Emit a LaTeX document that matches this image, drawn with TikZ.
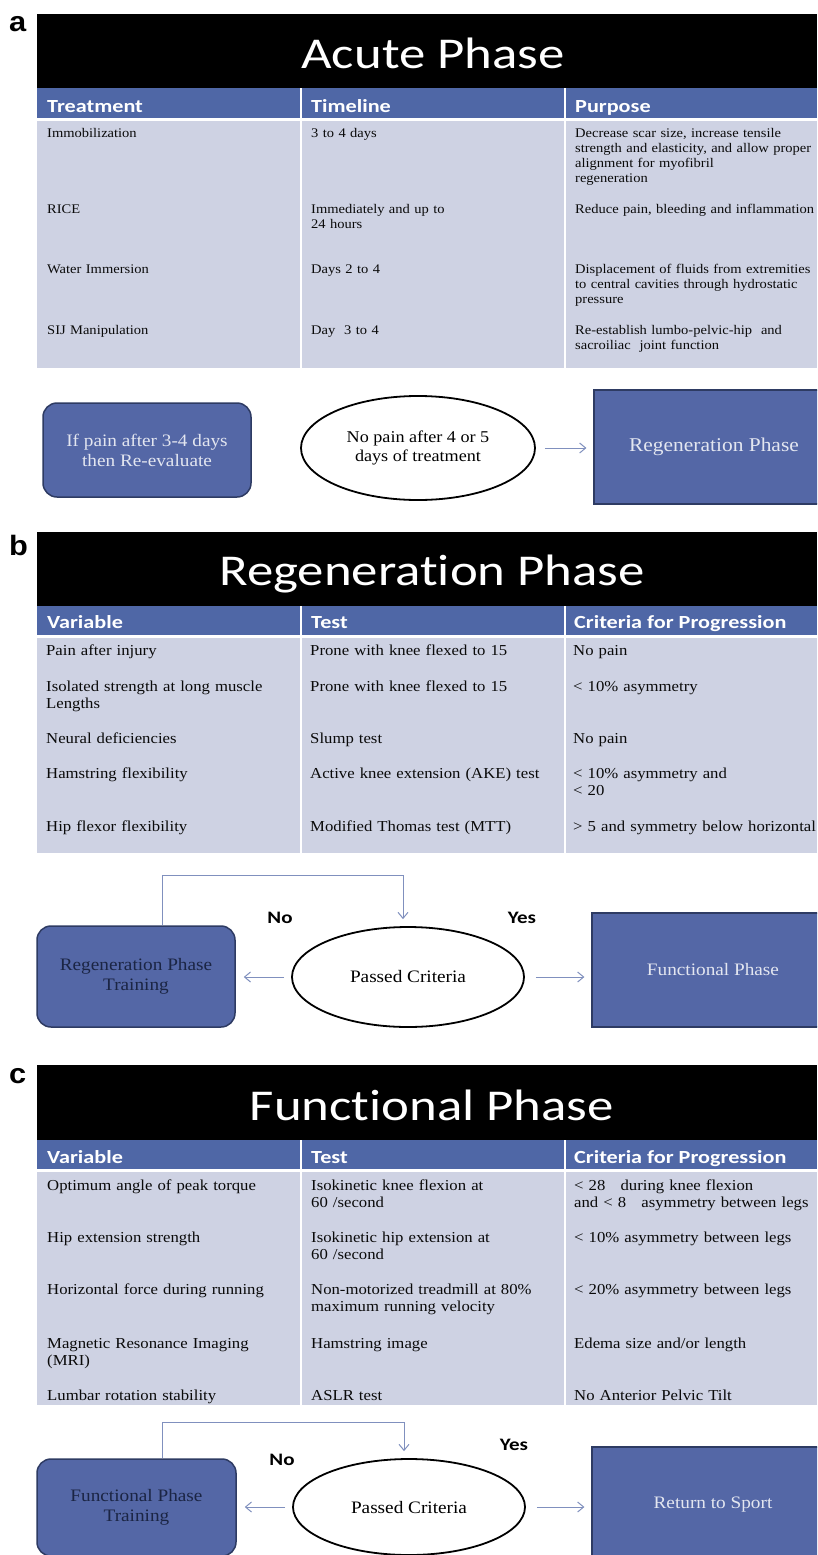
\documentclass[tikz,border=0pt]{standalone}
\usepackage{fontspec}
\setmainfont{Liberation Serif}[FakeStretch=1.1]
\newfontfamily\calfont{Carlito}[FakeStretch=1.2,Ligatures=NoCommon]
\newfontfamily\labfont{Liberation Sans}[FakeStretch=1.1]
\usetikzlibrary{shapes.geometric,arrows.meta,calc}
\definecolor{hdrblue}{HTML}{4F67A6}
\definecolor{cellbg}{HTML}{CED2E3}
\definecolor{boxblue}{HTML}{5467A6}
\definecolor{boxedge}{HTML}{2E3B63}
\definecolor{connc}{HTML}{8090BE}
\definecolor{bodytxt}{HTML}{0A0A0A}
\definecolor{lighttxt}{HTML}{E3E6F0}
\definecolor{navytxt}{HTML}{1B2544}
\begin{document}
\begin{tikzpicture}[x=1pt,y=-1pt,
  titletxt/.style={anchor=base, inner sep=0, text=white, font=\calfont\fontsize{44}{48}\selectfont},
  headtxt/.style={anchor=base west, inner sep=0, text=white, font=\calfont\bfseries\fontsize{18.5}{20}\selectfont},
  cellA/.style={anchor=base west, inner sep=0, text=bodytxt, text width=260pt, align=left, font=\fontsize{13.2}{15}\selectfont},
  cellB/.style={cellA, font=\fontsize{15.2}{17}\selectfont},
  cellC/.style={cellA, font=\fontsize{15.2}{17.5}\selectfont},
  panellab/.style={anchor=base west, inner sep=0, text=black, font=\labfont\bfseries\fontsize{28}{30}\selectfont},
  rbox/.style={draw=boxedge, line width=1.5pt, fill=boxblue, rounded corners=14pt, inner sep=0, align=center, font=\fontsize{17.5}{20}\selectfont},
  sbox/.style={draw=boxedge, line width=1.2pt, fill=boxblue, inner sep=0, align=center, text=lighttxt, font=\fontsize{17.5}{20}\selectfont},
  oval/.style={ellipse, draw=black, line width=1.8pt, fill=white, inner sep=0, align=center, text=black, font=\fontsize{17.5}{19.5}\selectfont},
  conn/.style={draw=connc, line width=1pt, -{Straight Barb[length=6pt,width=10pt]}},
  yesno/.style={inner sep=0, text=black, font=\calfont\bfseries\fontsize{17.5}{19}\selectfont},
]
\useasboundingbox (0,0) rectangle (817,1555);
\clip (0,0) rectangle (817,1555);
\fill[white] (0,0) rectangle (817,1555);

% ================= panel a =================
\node[panellab] (labA) at (9,32) {a};
\fill[black] (37,14) rectangle (817,88);
\fill[hdrblue] (37,88) rectangle (817,118);
\fill[cellbg] (37,121) rectangle (817,368);
\draw[white, line width=2pt] (301,88) -- (301,368) (565,88) -- (565,368);
\node[titletxt] (tA) at (433,68) {Acute Phase};
\node[headtxt] (hA1) at (47,112) {Treatment};
\node[headtxt] (hA2) at (311,112) {Timeline};
\node[headtxt] (hA3) at (575,112) {Purpose};

\node[cellA] (a11) at (47,137) {Immobilization};
\node[cellA] (a12) at (311,137) {3 to 4 days};
\node[cellA] (a13) at (575,137) {Decrease scar size, increase tensile\\strength and elasticity, and allow proper\\alignment for myofibril\\regeneration};
\node[cellA] (a21) at (47,213) {RICE};
\node[cellA] (a22) at (311,213) {Immediately and up to\\24 hours};
\node[cellA] (a23) at (575,213) {Reduce pain, bleeding and inflammation};
\node[cellA] (a31) at (47,273) {Water Immersion};
\node[cellA] (a32) at (311,273) {Days 2 to 4};
\node[cellA] (a33) at (575,273) {Displacement of fluids from extremities\\to central cavities through hydrostatic\\pressure};
\node[cellA] (a41) at (47,334) {SIJ Manipulation};
\node[cellA] (a42) at (311,334) {Day\ \ 3 to 4};
\node[cellA] (a43) at (575,334) {Re-establish lumbo-pelvic-hip\ \ and\\sacroiliac\ \ joint function};

\node[rbox, text=lighttxt, minimum width=208pt, minimum height=94pt] (painA) at (147,450) {If pain after 3-4 days\\then Re-evaluate};
\node[oval, minimum width=234pt, minimum height=104pt, font=\fontsize{16.5}{18.5}\selectfont] (ovA) at (418,448) {No pain after 4 or 5\\days of treatment};
\node[sbox, minimum width=240pt, minimum height=114pt, font=\fontsize{19.5}{22}\selectfont] (regA) at (714,447) {Regeneration Phase};
\draw[conn] ($(ovA.east)+(9,0)$) -- ($(regA.west |- ovA.east)+(-7,0)$);

% ================= panel b =================
\node[panellab] (labB) at (9,555) {b};
\fill[black] (37,532) rectangle (817,606);
\fill[hdrblue] (37,606) rectangle (817,635);
\fill[cellbg] (37,638) rectangle (817,853);
\draw[white, line width=2pt] (301,606) -- (301,853) (565,606) -- (565,853);
\node[titletxt] (tB) at (432,585) {Regeneration Phase};
\node[headtxt] (hB1) at (47,628) {Variable};
\node[headtxt] (hB2) at (311,628) {Test};
\node[headtxt] (hB3) at (574,628) {Criteria for Progression};

\node[cellB] (b11) at (46,655) {Pain after injury};
\node[cellB] (b12) at (310,655) {Prone with knee flexed to 15};
\node[cellB] (b13) at (573,655) {No pain};
\node[cellB] (b21) at (46,691) {Isolated strength at long muscle\\Lengths};
\node[cellB] (b22) at (310,691) {Prone with knee flexed to 15};
\node[cellB] (b23) at (573,691) {< 10\% asymmetry};
\node[cellB] (b31) at (46,743) {Neural deficiencies};
\node[cellB] (b32) at (310,743) {Slump test};
\node[cellB] (b33) at (573,743) {No pain};
\node[cellB] (b41) at (46,778) {Hamstring flexibility};
\node[cellB] (b42) at (310,778) {Active knee extension (AKE) test};
\node[cellB] (b43) at (573,778) {< 10\% asymmetry and\\< 20};
\node[cellB] (b51) at (46,831) {Hip flexor flexibility};
\node[cellB] (b52) at (310,831) {Modified Thomas test (MTT)};
\node[cellB] (b53) at (573,831) {> 5 and symmetry below horizontal};

\node[rbox, text=navytxt, minimum width=198pt, minimum height=101pt] (trB) at (136,976.5) {Regeneration Phase\\Training};
\node[oval, minimum width=232pt, minimum height=100pt] (ovB) at (408,977) {Passed Criteria};
\node[sbox, minimum width=242pt, minimum height=114pt] (fnB) at (713,970) {Functional Phase};
\node[yesno] (noB) at (280,918) {No};
\node[yesno] (yesB) at (522,918) {Yes};
\draw[conn] ($(ovB.west)+(-7,0)$) -- ($(trB.east |- ovB.west)+(8,0)$);
\draw[conn] ($(ovB.east)+(11,0)$) -- ($(fnB.west |- ovB.east)+(-7,0)$);
\draw[conn] ($(trB.north)+(26,0)$) -- ++(0,-50) -| ($(ovB.north)+(-5,-7)$);

% ================= panel c =================
\node[panellab] (labC) at (9,1083) {c};
\fill[black] (37,1065) rectangle (817,1140);
\fill[hdrblue] (37,1140) rectangle (817,1169);
\fill[cellbg] (37,1172) rectangle (817,1405);
\draw[white, line width=2pt] (301,1140) -- (301,1405) (565,1140) -- (565,1405);
\node[titletxt] (tC) at (432,1120) {Functional Phase};
\node[headtxt] (hC1) at (47,1163) {Variable};
\node[headtxt] (hC2) at (311,1163) {Test};
\node[headtxt] (hC3) at (574,1163) {Criteria for Progression};

\node[cellC] (c11) at (47,1190) {Optimum angle of peak torque};
\node[cellC] (c12) at (311,1190) {Isokinetic knee flexion at\\60 /second};
\node[cellC] (c13) at (574,1190) {< 28\ \ \ during knee flexion\\and < 8\ \ \ asymmetry between legs};
\node[cellC] (c21) at (47,1242) {Hip extension strength};
\node[cellC] (c22) at (311,1242) {Isokinetic hip extension at\\60 /second};
\node[cellC] (c23) at (574,1242) {< 10\% asymmetry between legs};
\node[cellC] (c31) at (47,1294) {Horizontal force during running};
\node[cellC] (c32) at (311,1294) {Non-motorized treadmill at 80\%\\maximum running velocity};
\node[cellC] (c33) at (574,1294) {< 20\% asymmetry between legs};
\node[cellC] (c41) at (47,1348) {Magnetic Resonance Imaging\\(MRI)};
\node[cellC] (c42) at (311,1348) {Hamstring image};
\node[cellC] (c43) at (574,1348) {Edema size and/or length};
\node[cellC] (c51) at (47,1400) {Lumbar rotation stability};
\node[cellC] (c52) at (311,1400) {ASLR test};
\node[cellC] (c53) at (574,1400) {No Anterior Pelvic Tilt};

\node[rbox, text=navytxt, minimum width=199pt, minimum height=97pt] (trC) at (136.5,1507.5) {Functional Phase\\Training};
\node[oval, minimum width=232pt, minimum height=96pt] (ovC) at (409,1507) {Passed Criteria};
\node[sbox, minimum width=242pt, minimum height=116pt] (rsC) at (713,1505) {Return to Sport};
\node[yesno] (noC) at (282,1460) {No};
\node[yesno] (yesC) at (514,1445) {Yes};
\draw[conn] ($(ovC.west)+(-7,0)$) -- ($(trC.east |- ovC.west)+(8,0)$);
\draw[conn] ($(ovC.east)+(11,0)$) -- ($(rsC.west |- ovC.east)+(-7,0)$);
\draw[conn] ($(trC.north)+(26,0)$) -- ++(0,-36) -| ($(ovC.north)+(-5,-7)$);
\end{tikzpicture}
\end{document}
